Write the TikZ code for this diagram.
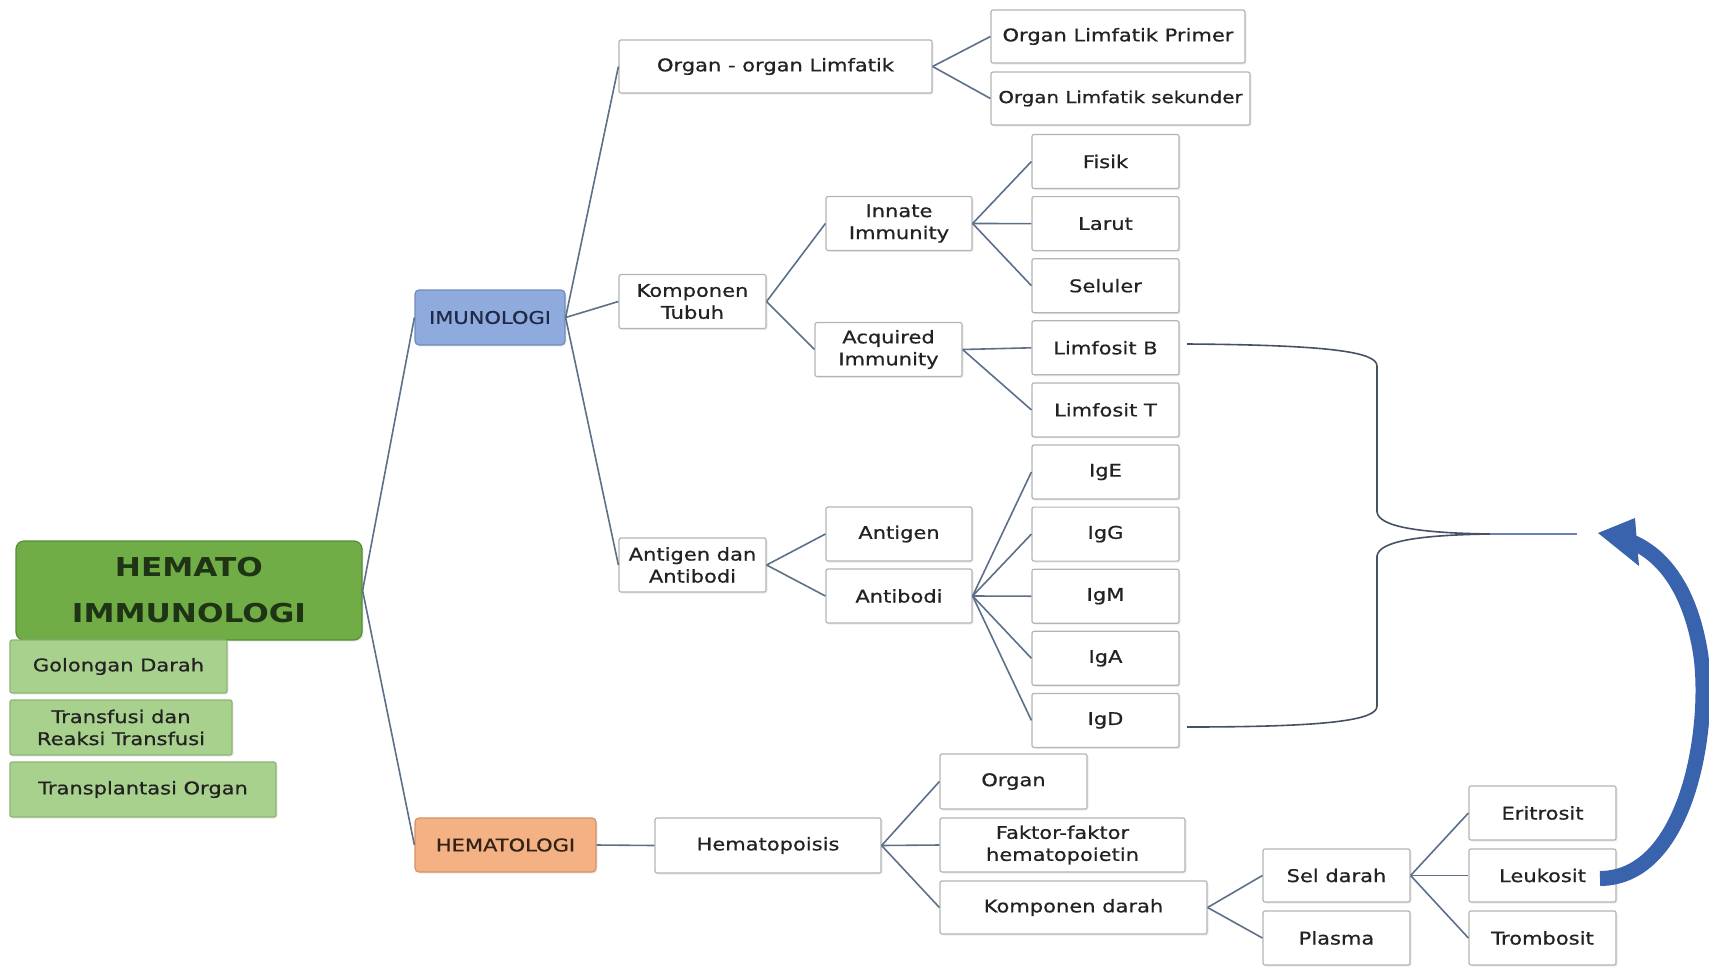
\documentclass[tikz,border=0pt]{standalone}
\usepackage{fontspec}
\setmainfont{DejaVu Sans}[FakeStretch=1.2, UprightFeatures={FakeBold=0.7}]
\usetikzlibrary{shadows}
\definecolor{lnc}{RGB}{92,112,138}
\definecolor{boxd}{RGB}{180,180,180}
\definecolor{txt}{RGB}{34,34,34}
\definecolor{gdark}{RGB}{112,173,71}
\definecolor{gdarkb}{RGB}{88,140,55}
\definecolor{glight}{RGB}{169,209,142}
\definecolor{glightb}{RGB}{140,180,115}
\definecolor{bluebox}{RGB}{143,170,220}
\definecolor{blueboxb}{RGB}{110,140,195}
\definecolor{orbox}{RGB}{244,177,131}
\definecolor{orboxb}{RGB}{215,145,100}
\definecolor{arrblue}{RGB}{58,99,173}
\definecolor{brc}{RGB}{70,82,100}
\definecolor{brcb}{RGB}{110,125,190}
\tikzset{
  box/.style={draw=boxd, line width=1.2pt, fill=white, rounded corners=2pt, align=center,
    inner sep=0pt, font=\fontsize{17.5}{22}\selectfont, text=txt,
    drop shadow={shadow xshift=1.5pt, shadow yshift=-1.5pt, opacity=0.15}},
  gbox/.style={box, fill=glight, draw=glightb},
  con/.style={draw=lnc, line width=1.6pt},
  cbox/.style={box, minimum width=147pt, minimum height=54pt},
}
\begin{document}
\begin{tikzpicture}[x=1pt,y=-1pt]
\useasboundingbox (0,0) rectangle (1709,970);
% root and left boxes
\node[box, fill=gdark, draw=gdarkb, rounded corners=8pt, minimum width=346pt, minimum height=99pt,
  font=\fontsize{26}{46}\selectfont\bfseries, text={rgb,255:red,30;green,52;blue,20}] (root) at (189,590.5) {HEMATO\\IMMUNOLOGI};
\node[gbox, minimum width=217pt, minimum height=53pt] (gol) at (118.5,666.5) {Golongan Darah};
\node[gbox, minimum width=222pt, minimum height=55pt] (trans) at (121,727.5) {Transfusi dan\\Reaksi Transfusi};
\node[gbox, minimum width=266pt, minimum height=55pt] (transpl) at (143,789.5) {Transplantasi Organ};
% level 1
\node[box, fill=bluebox, draw=blueboxb, rounded corners=4pt, minimum width=150pt, minimum height=55pt,
  text={rgb,255:red,30;green,42;blue,70}] (imu) at (490,317.5) {IMUNOLOGI};
\node[box, fill=orbox, draw=orboxb, rounded corners=4pt, minimum width=181pt, minimum height=54pt,
  text={rgb,255:red,50;green,35;blue,25}] (hem) at (505.5,845) {HEMATOLOGI};
% imunologi branch
\node[box, minimum width=313pt, minimum height=53pt] (olim) at (775.5,66.5) {Organ - organ Limfatik};
\node[box, minimum width=254pt, minimum height=53pt] (olp) at (1118,36.5) {Organ Limfatik Primer};
\node[box, minimum width=259pt, minimum height=53pt, font=\fontsize{16.5}{20}\selectfont] (ols) at (1120.5,98.5) {Organ Limfatik sekunder};
\node[cbox] (komp) at (692.5,301.5) {Komponen\\Tubuh};
\node[cbox, minimum width=146pt] (innate) at (899,223.5) {Innate\\Immunity};
\node[cbox] (acq) at (888.5,349.5) {Acquired\\Immunity};
\node[cbox] (agab) at (692.5,565) {Antigen dan\\Antibodi};
\node[cbox, minimum width=146pt] (antigen) at (899,534) {Antigen};
\node[cbox, minimum width=146pt] (antibodi) at (899,596) {Antibodi};
\node[cbox] (fisik) at (1105.5,161.5) {Fisik};
\node[cbox] (larut) at (1105.5,223.6) {Larut};
\node[cbox] (seluler) at (1105.5,285.7) {Seluler};
\node[cbox] (lb) at (1105.5,347.8) {Limfosit B};
\node[cbox] (lt) at (1105.5,409.9) {Limfosit T};
\node[cbox] (ige) at (1105.5,472) {IgE};
\node[cbox] (igg) at (1105.5,534.1) {IgG};
\node[cbox] (igm) at (1105.5,596.2) {IgM};
\node[cbox] (iga) at (1105.5,658.3) {IgA};
\node[cbox] (igd) at (1105.5,720.4) {IgD};
% hematologi branch
\node[box, minimum width=226pt, minimum height=55pt] (hpois) at (768,845.5) {Hematopoisis};
\node[cbox, minimum height=55pt] (organ) at (1013.5,781.5) {Organ};
\node[box, minimum width=245pt, minimum height=54pt] (faktor) at (1062.5,845) {Faktor-faktor\\hematopoietin};
\node[box, minimum width=267pt, minimum height=53pt] (kdarah) at (1073.5,907.5) {Komponen darah};
\node[cbox, minimum height=53pt] (sel) at (1336.5,875.5) {Sel darah};
\node[cbox] (plasma) at (1336.5,938) {Plasma};
\node[cbox] (eri) at (1542.5,813) {Eritrosit};
\node[cbox, minimum height=53pt] (leu) at (1542.5,875.5) {Leukosit};
\node[cbox] (trom) at (1542.5,938) {Trombosit};
% connectors
\draw[con] (root.east) -- (imu.west);
\draw[con] (root.east) -- (hem.west);
\draw[con] (imu.east) -- (olim.west);
\draw[con] (imu.east) -- (komp.west);
\draw[con] (imu.east) -- (agab.west);
\draw[con] (olim.east) -- (olp.west);
\draw[con] (olim.east) -- (ols.west);
\draw[con] (komp.east) -- (innate.west);
\draw[con] (komp.east) -- (acq.west);
\draw[con] (innate.east) -- (fisik.west);
\draw[con] (innate.east) -- (larut.west);
\draw[con] (innate.east) -- (seluler.west);
\draw[con] (acq.east) -- (lb.west);
\draw[con] (acq.east) -- (lt.west);
\draw[con] (agab.east) -- (antigen.west);
\draw[con] (agab.east) -- (antibodi.west);
\foreach \t in {ige,igg,igm,iga,igd} \draw[con] (antibodi.east) -- (\t.west);
\draw[con] (hem.east) -- (hpois.west);
\draw[con] (hpois.east) -- (organ.west);
\draw[con] (hpois.east) -- (faktor.west);
\draw[con] (hpois.east) -- (kdarah.west);
\draw[con] (kdarah.east) -- (sel.west);
\draw[con] (kdarah.east) -- (plasma.west);
\draw[con] (sel.east) -- (eri.west);
\draw[con] (sel.east) -- (leu.west);
\draw[con] (sel.east) -- (trom.west);
% brace
\coordinate (b1) at (1187,344);
\coordinate (b2) at (1187,727);
\coordinate (bm) at (1490,534);
\coordinate (be) at (1577,534);
\draw[brc, line width=1.6pt] (b1) .. controls (1330,345) and (1377,352) .. (1377,366) -- (1377,512)
  .. controls (1379,527) and (1420,533) .. (bm)
  .. controls (1420,535) and (1379,541) .. (1377,556) -- (1377,706)
  .. controls (1377,720) and (1330,727) .. (b2);
\draw[brcb, line width=2.4pt] (bm) -- (be);
% blue arrow
\coordinate (as) at (1600,878.5);
\coordinate (ah) at (1632,542);
\coordinate (at) at (1598,533);
\draw[arrblue, line width=15pt] (as) .. controls (1690,878) and (1712,720) .. (1700,650)
  .. controls (1690,592) and (1665,556) .. (ah);
\fill[arrblue] (at) -- (1635,518) -- (1639,566) -- cycle;
\end{tikzpicture}
\end{document}
